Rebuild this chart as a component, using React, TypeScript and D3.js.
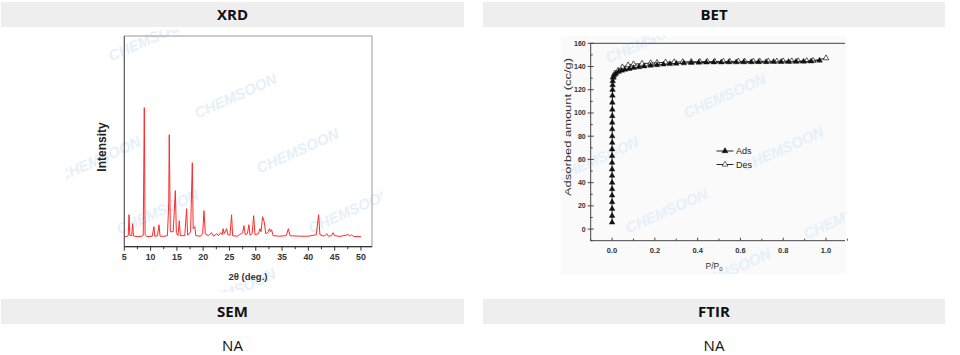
import React, { useEffect, useRef } from 'react';
import * as d3 from 'd3';

// panel titles
const topTitles = ['XRD', 'BET'];
const bottomTitles = ['SEM', 'FTIR'];
const bottomValues = ['NA', 'NA'];

// XRD pattern: [2θ, intensity]
const xrdPoints: [number, number][] = [
    [5.0, 100], [5.5, 104], [5.75, 110], [5.9, 320], [6.05, 115], [6.4, 108], [6.58, 230], [6.75, 108],
    [7.5, 100], [8.2, 104], [8.6, 112], [8.8, 1390], [8.95, 120], [9.3, 102], [10.3, 104], [10.64, 200],
    [10.8, 104], [11.3, 108], [11.6, 220], [11.8, 105], [12.5, 104], [13.2, 110], [13.45, 440], [13.55, 1120],
    [13.75, 150], [14.3, 150], [14.7, 560], [14.9, 140], [15.2, 110], [15.46, 260], [15.65, 110], [16.5, 110],
    [16.85, 380], [17.05, 115], [17.6, 150], [17.93, 840], [18.1, 180], [18.4, 200], [18.6, 110], [19.5, 105],
    [19.9, 130], [20.15, 360], [20.4, 130], [21.0, 110], [21.6, 140], [22.0, 105], [22.6, 130], [22.9, 110],
    [23.3, 140], [23.6, 120], [23.8, 180], [24.0, 130], [24.45, 180], [24.7, 120], [25.1, 115], [25.4, 320],
    [25.6, 110], [26.5, 105], [27.2, 130], [27.5, 140], [27.75, 210], [28.0, 120], [28.4, 130], [28.7, 220],
    [28.9, 115], [29.3, 130], [29.6, 310], [29.85, 120], [30.5, 130], [30.8, 180], [31.0, 150], [31.3, 300],
    [31.6, 250], [31.9, 130], [32.3, 140], [32.6, 180], [32.8, 150], [33.0, 170], [33.3, 110], [34.5, 105],
    [35.8, 110], [36.2, 180], [36.5, 110], [37.0, 108], [38.5, 105], [40.0, 105], [41.5, 120], [41.95, 320],
    [42.2, 120], [43.0, 105], [43.5, 130], [43.8, 105], [44.4, 110], [44.7, 140], [45.0, 110], [46.0, 103],
    [47.6, 120], [47.9, 105], [48.2, 118], [48.6, 102], [50.0, 100],
];
const xrdTicks = [5, 10, 15, 20, 25, 30, 35, 40, 45, 50];

// BET isotherm: relative pressure and adsorbed amount (cc/g)
const adsP = [
    0.0, 0.0, 0.0, 0.0, 0.0, 0.0, 0.0, 0.0, 0.0, 0.0, 0.0, 0.0, 0.0005, 0.0005, 0.0005, 0.0005, 0.001, 0.001,
    0.001, 0.0015, 0.002, 0.0025, 0.003, 0.006, 0.01, 0.018, 0.03, 0.045, 0.06, 0.08, 0.1, 0.125, 0.15, 0.18,
    0.21, 0.24, 0.27, 0.3, 0.335, 0.37, 0.405, 0.44, 0.475, 0.51, 0.545, 0.58, 0.615, 0.65, 0.685, 0.72, 0.755,
    0.79, 0.825, 0.86, 0.895, 0.93, 0.97,
];
const adsV = [
    5.7, 11.5, 17.5, 23.3, 29, 34.5, 40, 46, 51.4, 57.2, 63, 68.7, 74.4, 80, 86, 91.7, 97.4, 103,
    109, 115, 120, 124, 127.5, 130.5, 132.5, 134, 135.5, 136.5, 137.3, 138, 138.8, 139.5, 140.2, 140.8,
    141.3, 141.8, 142.2, 142.6, 142.9, 143.2, 143.4, 143.5, 143.6, 143.6, 143.7, 143.7, 143.8, 143.8, 143.9, 143.9, 144,
    144, 144.1, 144.2, 144.3, 144.5, 145.2,
];
const desP = [
    0.005, 0.012, 0.028, 0.048, 0.075, 0.1, 0.14, 0.18, 0.21, 0.25, 0.29, 0.33, 0.37, 0.41, 0.445, 0.48, 0.52,
    0.55, 0.59, 0.62, 0.66, 0.69, 0.73, 0.77, 0.8, 0.84, 0.87, 0.91, 0.94, 1.0,
];
const desV = [
    131, 134, 136.5, 139.4, 141.2, 142, 142.5, 143, 143.3, 143.6, 143.8, 144, 144.1, 144.2, 144.2, 144.3, 144.3,
    144.3, 144.4, 144.4, 144.4, 144.5, 144.5, 144.5, 144.6, 144.6, 144.7, 144.8, 145, 147.2,
];
const betYTicks = [0, 20, 40, 60, 80, 100, 120, 140, 160];
const betXTicks = [0, 0.2, 0.4, 0.6, 0.8, 1.0];
const legendItems = ['Ads', 'Des'];

const watermark = 'CHEMSOON';
const xrdMarks: [number, number][] = [[150, 40], [236, 97], [298, 152], [100, 160], [158, 213], [350, 212], [235, 292]];
const betMarks: [number, number][] = [[647, 42], [725, 97], [783, 150], [598, 160], [667, 212], [845, 218], [730, 272]];

const App: React.FC = () => {
    const svgRef = useRef<SVGSVGElement>(null);

    useEffect(() => {
        if (!svgRef.current) return;
        const svg = d3.select(svgRef.current);
        svg.selectAll('*').remove();

        const font = '"Open Sans", "Noto Sans", sans-serif';
        const chartFont = '"Liberation Sans", Arial, sans-serif';

        // Header bars
        const cols = [{ x: 1, w: 463 }, { x: 483, w: 462 }];
        const header = (y: number, titles: string[]) => {
            cols.forEach((c, i) => {
                svg.append('rect')
                    .attr('x', c.x).attr('y', y).attr('width', c.w).attr('height', 25)
                    .attr('fill', '#eeeeee');
                svg.append('text')
                    .attr('x', c.x + c.w / 2).attr('y', y + 17.5)
                    .attr('text-anchor', 'middle')
                    .attr('font-family', font).attr('font-weight', 'bold').attr('font-size', '15px')
                    .attr('fill', '#111')
                    .text(titles[i]);
            });
        };
        header(2, topTitles);
        header(299, bottomTitles);
        cols.forEach((c, i) => {
            svg.append('text')
                .attr('x', c.x + c.w / 2).attr('y', 351)
                .attr('text-anchor', 'middle')
                .attr('font-family', font).attr('font-size', '15px')
                .attr('fill', '#111')
                .text(bottomValues[i]);
        });

        const defs = svg.append('defs');
        const addClip = (id: string, x: number, y: number, w: number, h: number) => {
            defs.append('clipPath').attr('id', id)
                .append('rect').attr('x', x).attr('y', y).attr('width', w).attr('height', h);
        };
        addClip('xrd-img', 66, 30, 316, 262);
        addClip('bet-img', 561, 36, 285, 238);

        const drawMarks = (marks: [number, number][], clip: string) => {
            const g = svg.append('g').attr('clip-path', `url(#${clip})`);
            marks.forEach(([cx, cy]) => {
                g.append('text')
                    .attr('transform', `translate(${cx},${cy}) rotate(-24)`)
                    .attr('text-anchor', 'middle')
                    .attr('dominant-baseline', 'middle')
                    .attr('font-family', chartFont).attr('font-weight', 'bold').attr('font-style', 'italic')
                    .attr('font-size', '15px')
                    .attr('fill', '#e6f0fa')
                    .text(watermark);
            });
        };

        // ---------------- XRD ----------------
        const xx = d3.scaleLinear().domain([5, 52.1]).range([124.3, 372]);
        const xy = d3.scaleLinear().domain([0, 2107]).range([246.7, 36]);

        drawMarks(xrdMarks, 'xrd-img');

        svg.append('rect')
            .attr('x', xx(5)).attr('y', 36).attr('width', 372 - xx(5)).attr('height', 246.7 - 36)
            .attr('fill', 'none').attr('stroke', '#9a9a9a').attr('stroke-width', 1);
        svg.append('line')
            .attr('x1', xx(5)).attr('x2', xx(5)).attr('y1', 36).attr('y2', 246.7)
            .attr('stroke', '#555').attr('stroke-width', 1);
        svg.append('line')
            .attr('x1', xx(5)).attr('x2', 372).attr('y1', 246.7).attr('y2', 246.7)
            .attr('stroke', '#333').attr('stroke-width', 1.2);

        const xrdAxis = svg.append('g');
        d3.range(5, 52, 2.5).forEach(t => {
            const major = t % 5 === 0;
            xrdAxis.append('line')
                .attr('x1', xx(t)).attr('x2', xx(t))
                .attr('y1', 246.7).attr('y2', 246.7 + (major ? 4 : 2.5))
                .attr('stroke', '#333').attr('stroke-width', 1);
        });
        xrdAxis.selectAll('text.tk')
            .data(xrdTicks)
            .enter()
            .append('text')
            .attr('x', d => xx(d)).attr('y', 259.5)
            .attr('text-anchor', 'middle')
            .attr('font-family', chartFont).attr('font-weight', 'bold').attr('font-size', '8.8px')
            .attr('fill', '#333')
            .text(d => d);
        svg.append('text')
            .attr('x', 248).attr('y', 280)
            .attr('text-anchor', 'middle')
            .attr('font-family', chartFont).attr('font-weight', 'bold').attr('font-size', '9.5px')
            .attr('fill', '#333')
            .text('2θ (deg.)');
        svg.append('text')
            .attr('transform', 'translate(106,147) rotate(-90)')
            .attr('text-anchor', 'middle')
            .attr('font-family', chartFont).attr('font-weight', 'bold').attr('font-size', '12px')
            .attr('fill', '#222')
            .text('Intensity');

        const xrdLine = d3.line<[number, number]>().x(d => xx(d[0])).y(d => xy(d[1]));
        svg.append('path')
            .attr('d', xrdLine(xrdPoints))
            .attr('fill', 'none')
            .attr('stroke', '#ff2a2a')
            .attr('stroke-width', 1)
            .attr('stroke-linejoin', 'round');

        // ---------------- BET ----------------
        svg.append('rect')
            .attr('x', 561).attr('y', 36).attr('width', 285).attr('height', 238)
            .attr('fill', '#fafafa');

        drawMarks(betMarks, 'bet-img');

        const bx = d3.scaleLinear().domain([-0.1, 1.0]).range([590.7, 826]);
        const by = d3.scaleLinear().domain([-10, 160]).range([240.7, 43.3]);
        const right = 845;

        const ax = svg.append('g').attr('stroke', '#444').attr('stroke-width', 1);
        ax.append('line').attr('x1', bx(-0.1)).attr('x2', bx(-0.1)).attr('y1', by(160)).attr('y2', by(-10));
        ax.append('line').attr('x1', bx(-0.1)).attr('x2', right).attr('y1', by(-10)).attr('y2', by(-10));
        ax.append('line').attr('x1', bx(-0.1)).attr('x2', right).attr('y1', by(160)).attr('y2', by(160));

        d3.range(-10, 161, 10).forEach(v => {
            const major = v % 20 === 0;
            ax.append('line')
                .attr('x1', bx(-0.1) - (major ? 3 : 0)).attr('x2', bx(-0.1) + (major ? 3 : 2))
                .attr('y1', by(v)).attr('y2', by(v));
        });
        d3.range(-0.1, 1.1, 0.1).forEach(v => {
            const major = Math.abs(Math.round(v * 10) % 2) === 0;
            ax.append('line')
                .attr('x1', bx(v)).attr('x2', bx(v))
                .attr('y1', by(-10)).attr('y2', by(-10) - (major ? 3 : 2));
        });

        svg.selectAll('text.by')
            .data(betYTicks)
            .enter()
            .append('text')
            .attr('x', bx(-0.1) - 5).attr('y', d => by(d) + 2.5)
            .attr('text-anchor', 'end')
            .attr('font-family', chartFont).attr('font-weight', 'bold').attr('font-size', '7px')
            .attr('fill', '#333')
            .text(d => d);
        svg.selectAll('text.bx')
            .data(betXTicks)
            .enter()
            .append('text')
            .attr('x', d => bx(d)).attr('y', 253)
            .attr('text-anchor', 'middle')
            .attr('font-family', chartFont).attr('font-weight', 'bold').attr('font-size', '7.5px')
            .attr('fill', '#333')
            .text(d => d.toFixed(1));

        const pLabel = svg.append('text')
            .attr('x', 714).attr('y', 269)
            .attr('text-anchor', 'middle')
            .attr('font-family', chartFont).attr('font-size', '8.5px')
            .attr('fill', '#333');
        pLabel.append('tspan').text('P/P');
        pLabel.append('tspan').attr('font-size', '6px').attr('dy', 2).text('0');

        svg.append('text')
            .attr('transform', 'translate(571,127) rotate(-90)')
            .attr('text-anchor', 'middle')
            .attr('font-family', chartFont).attr('font-size', '9px')
            .attr('textLength', 138).attr('lengthAdjust', 'spacingAndGlyphs')
            .attr('fill', '#333')
            .text('Adsorbed amount (cc/g)');

        const tri = d3.symbol().type(d3.symbolTriangle).size(14);
        const drawSeries = (ps: number[], vs: number[], filled: boolean) => {
            const pts = ps.map((p, i) => [bx(p), by(vs[i])] as [number, number]);
            svg.append('path')
                .attr('d', d3.line()(pts))
                .attr('fill', 'none').attr('stroke', '#111').attr('stroke-width', 0.9);
            svg.append('g').selectAll('path')
                .data(pts)
                .enter()
                .append('path')
                .attr('d', tri)
                .attr('transform', d => `translate(${d[0]},${d[1]})`)
                .attr('fill', filled ? '#111' : '#fff')
                .attr('stroke', '#111').attr('stroke-width', filled ? 0.4 : 0.7);
        };
        drawSeries(desP, desV, false);
        drawSeries(adsP, adsV, true);

        // Legend
        legendItems.forEach((name, i) => {
            const ly = 151 + i * 13.5;
            svg.append('line')
                .attr('x1', 716.5).attr('x2', 733.5).attr('y1', ly).attr('y2', ly)
                .attr('stroke', '#111').attr('stroke-width', 0.9);
            svg.append('path')
                .attr('d', tri)
                .attr('transform', `translate(725,${ly})`)
                .attr('fill', i === 0 ? '#111' : '#fff')
                .attr('stroke', '#111').attr('stroke-width', 0.6);
            svg.append('text')
                .attr('x', 736).attr('y', ly + 3)
                .attr('font-family', chartFont).attr('font-size', '9px')
                .attr('fill', '#222')
                .text(name);
        });
    }, []);

    return (
        <div style={{ position: 'absolute', left: 0, top: 0, width: 960, height: 355, background: '#fff' }}>
            <svg ref={svgRef} width={960} height={355} style={{ display: 'block' }} />
        </div>
    );
};

export default App;
